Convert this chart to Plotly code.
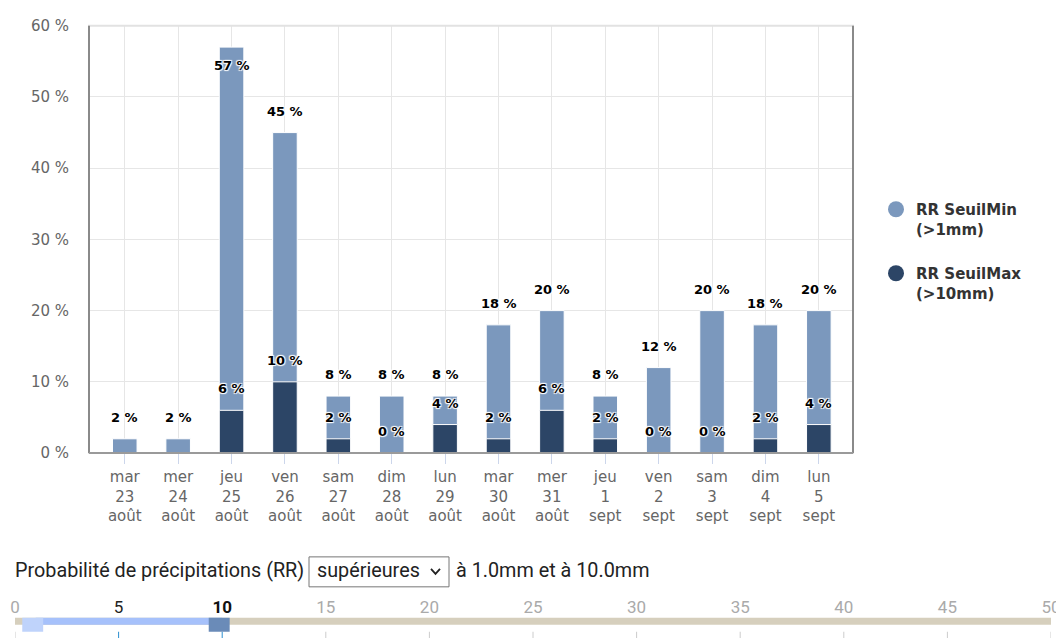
import plotly.graph_objects as go

# ---------------- data ----------------
day_names = ["mar", "mer", "jeu", "ven", "sam", "dim", "lun",
             "mar", "mer", "jeu", "ven", "sam", "dim", "lun"]
day_nums = ["23", "24", "25", "26", "27", "28", "29",
            "30", "31", "1", "2", "3", "4", "5"]
months = ["août"] * 9 + ["sept"] * 5
seuil_min = [2, 2, 57, 45, 8, 8, 8, 18, 20, 8, 12, 20, 18, 20]
seuil_max = [None, None, 6, 10, 2, 0, 4, 2, 6, 2, 0, 0, 2, 4]
series_names = ["RR SeuilMin<br>(>1mm)", "RR SeuilMax<br>(>10mm)"]
y_ticks = [0, 10, 20, 30, 40, 50, 60]

slider_ticks = [0, 5, 10, 15, 20, 25, 30, 35, 40, 45, 50]
slider_low = 1
slider_high = 10
caption_left = "Probabilité de précipitations (RR)"
caption_select = "supérieures"
caption_right = "à 1.0mm et à 10.0mm"

# ---------------- styles / geometry ----------------
LIGHT = "#7b98bd"
DARK = "#2c4566"
OFF_X = 8                       # page body margin (horizontal)
W, H = 1064, 639
ML, MR, MT, MB = 7, 21, 2, 0
PW, PH = W - ML - MR, H - MT - MB
VA, VB = 0.9765, 14.27          # photo_y = VB + VA * figure_y


def px_x(px):
    """reference x pixel -> paper coordinate"""
    return (px - OFF_X - ML) / PW


def px_y(py):
    """reference y pixel -> paper coordinate"""
    fy = (py - VB) / VA
    return (H - MB - fy) / PH


REF_BOTTOM = VB + VA * (H - MB)


def sy(py):
    """reference y pixel -> slider y2 units"""
    return REF_BOTTOM - py


XDOM = [px_x(89), px_x(853)]
YDOM = [px_y(453), px_y(25)]
YMAX = 60
px_per_unit = (YDOM[1] - YDOM[0]) * PH / YMAX
SLIDER_AXIS_PX = 618

idx = list(range(len(day_names)))
ticktext = [f"{a}<br>{b}<br>{c}" for a, b, c in zip(day_names, day_nums, months)]

fig = go.Figure()
fig.add_bar(x=idx, y=seuil_min, width=0.46, marker=dict(color=LIGHT, line=dict(color="white", width=1)),
            showlegend=False, hoverinfo="skip")
fig.add_bar(x=idx, y=seuil_max, width=0.46, marker=dict(color=DARK, line=dict(color="white", width=1)),
            showlegend=False, hoverinfo="skip")
for name, col in zip(series_names, [LIGHT, DARK]):
    fig.add_scatter(x=[None], y=[None], mode="markers", name=f"<b>{name}</b>",
                    marker=dict(color=col, size=16, symbol="circle"), legendgroup=name)
fig.add_scatter(x=[None], y=[None], xaxis="x2", yaxis="y2", showlegend=False, hoverinfo="skip")

shadow = "1px 1px 1px #fff, -1px -1px 1px #fff, 1px -1px 1px #fff, -1px 1px 1px #fff"
annotations = []
label_font = dict(family="DejaVu Sans", size=13, color="#000", weight="bold", shadow=shadow)
for i, v in enumerate(seuil_min):
    inside = v + 29 / px_per_unit > YMAX
    annotations.append(dict(x=i, y=v, xref="x", yref="y", text=f"{v} %", showarrow=False,
                            yshift=-18 if inside else 21.5, font=label_font))
for i, v in enumerate(seuil_max):
    if v is None:
        continue
    annotations.append(dict(x=i, y=v, xref="x", yref="y", text=f"{v} %", showarrow=False,
                            yshift=21.5, font=label_font))

ui_font = dict(family="Roboto", size=19.8, color="#222")
annotations += [
    dict(x=px_x(13), y=px_y(571), xref="paper", yref="paper", xanchor="left", yanchor="middle",
         text=caption_left, showarrow=False, font=ui_font),
    dict(x=px_x(315), y=px_y(571), xref="paper", yref="paper", xanchor="left", yanchor="middle",
         text=caption_select, showarrow=False, font=ui_font),
    dict(x=px_x(454), y=px_y(571), xref="paper", yref="paper", xanchor="left", yanchor="middle",
         text=caption_right, showarrow=False, font=ui_font),
]

shapes = [
    dict(type="rect", xref="x domain", yref="y domain", x0=0, x1=1, y0=0, y1=1,
         line=dict(color="#e2e2e2", width=2), layer="above"),
    dict(type="line", xref="x domain", yref="y domain", x0=0, x1=0, y0=0, y1=1,
         line=dict(color="#8a8a8a", width=2), layer="above"),
    dict(type="line", xref="x domain", yref="y domain", x0=1, x1=1, y0=0, y1=1,
         line=dict(color="#8a8a8a", width=2), layer="above"),
    dict(type="line", xref="x domain", yref="y domain", x0=0, x1=1, y0=0, y1=0,
         line=dict(color="#9a9a9a", width=2), layer="above"),
    dict(type="rect", xref="paper", yref="paper", x0=px_x(309), x1=px_x(449), y0=px_y(587), y1=px_y(557),
         line=dict(color="#767676", width=1), fillcolor="white", layer="below"),
    dict(type="path", xref="paper", yref="paper",
         path=f"M {px_x(431)} {px_y(569)} L {px_x(435.5)} {px_y(574)} L {px_x(440)} {px_y(569)}",
         line=dict(color="#222", width=1.8)),
]
shapes.append(dict(type="rect", xref="x2", yref="y2", x0=slider_ticks[0], x1=slider_ticks[-1],
                   y0=sy(625), y1=sy(617), fillcolor="#d6cfbd", line=dict(width=0)))
shapes.append(dict(type="rect", xref="x2", yref="y2", x0=slider_low, x1=slider_high,
                   y0=sy(625), y1=sy(617), fillcolor="#a6c1fb", line=dict(width=0)))
for t in slider_ticks:
    col = "#2a8fd0" if slider_low < t <= slider_high else "#cccccc"
    shapes.append(dict(type="line", xref="x2", yref="y2", x0=t, x1=t, y0=sy(640), y1=sy(632),
                       line=dict(color=col, width=1)))
shapes.append(dict(type="rect", xref="x2", yref="y2", x0=slider_low - 0.65, x1=slider_low + 0.36,
                   y0=sy(632), y1=sy(610), fillcolor="#bfd3fb", line=dict(width=0)))
shapes.append(dict(type="rect", xref="x2", yref="y2", x0=slider_high - 0.65, x1=slider_high + 0.36,
                   y0=sy(632), y1=sy(610), fillcolor="#6a8bb8", line=dict(width=0)))

slider_text = []
for t in slider_ticks:
    if t == slider_high:
        slider_text.append(f"<b><span style='color:#111'>{t}</span></b>")
    elif slider_low <= t <= slider_high:
        slider_text.append(f"<span style='color:#222'>{t}</span>")
    else:
        slider_text.append(str(t))

fig.update_layout(
    width=W, height=H,
    margin=dict(l=ML, r=MR, t=MT, b=MB),
    paper_bgcolor="white", plot_bgcolor="white",
    barmode="overlay",
    xaxis=dict(domain=XDOM, range=[-0.67, 13.64], tickmode="array", tickvals=idx, ticktext=ticktext,
               showgrid=True, gridcolor="#e6e6e6", gridwidth=1, zeroline=False,
               ticks="outside", ticklen=10, tickcolor="#ccd6eb",
               tickfont=dict(family="DejaVu Sans", size=15, color="#666"), fixedrange=True),
    yaxis=dict(domain=YDOM, range=[0, YMAX], tickmode="array", tickvals=y_ticks,
               ticktext=[f"{v} %" for v in y_ticks],
               showgrid=True, gridcolor="#e6e6e6", gridwidth=1, zeroline=False,
               ticklabelstandoff=19,
               tickfont=dict(family="DejaVu Sans", size=15, color="#666"), fixedrange=True),
    xaxis2=dict(domain=[0, 1], anchor="y2", side="top", range=[0, 50], tickmode="array",
                tickvals=slider_ticks, ticktext=slider_text, showgrid=False, zeroline=False,
                showline=False, ticks="", tickfont=dict(family="Roboto", size=17, color="#aaaaaa"),
                fixedrange=True),
    yaxis2=dict(domain=[0, px_y(SLIDER_AXIS_PX)], range=[0, sy(SLIDER_AXIS_PX)], visible=False,
                fixedrange=True),
    legend=dict(x=px_x(876), y=px_y(192.5), xanchor="left", yanchor="top", valign="top",
                font=dict(family="DejaVu Sans", size=15, color="#333"),
                tracegroupgap=22, traceorder="grouped", bgcolor="rgba(0,0,0,0)"),
    annotations=annotations,
    shapes=shapes,
)

fig.write_html("out.html")
